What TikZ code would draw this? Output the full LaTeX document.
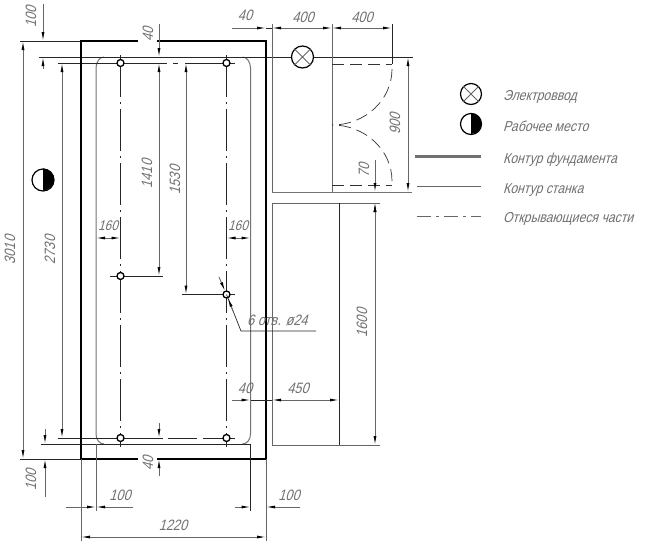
\documentclass[tikz,border=0pt]{standalone}
\usepackage{fontspec}
\setmainfont{Liberation Sans}
\newfontfamily\cadfont[FakeSlant=0.28,FakeStretch=0.85]{Liberation Sans}
\usetikzlibrary{arrows.meta}
\definecolor{thinc}{HTML}{666666}
\definecolor{cadtext}{HTML}{707070}
\definecolor{fundc}{HTML}{707070}
\tikzset{
  thinl/.style={line width=0.9pt,draw=thinc},
  blackl/.style={line width=0.7pt,draw=black!85},
  outl/.style={line width=1pt,draw=black!55},
  fund/.style={line width=2pt,draw=black},
  center/.style={line width=0.7pt,draw=black!85,dash pattern=on 42pt off 5pt on 2pt off 5pt},
  opening/.style={line width=0.7pt,draw=black!80,dash pattern=on 12pt off 6pt},
  dimv/.style={thinl,{Latex[length=9pt,width=3pt,black]}-{Latex[length=9pt,width=3pt,black]}},
  tipend/.style={thinl,-{Latex[length=9pt,width=3pt,black]}},
  lab/.style={text=cadtext,font=\cadfont\fontsize{15}{15}\selectfont,inner sep=0pt},
  smalllab/.style={lab,font=\cadfont\fontsize{14}{14}\selectfont},
  lg/.style={lab,anchor=base west,font=\cadfont\fontsize{14.4}{14.4}\selectfont},
  hole/.style={circle,draw=black,line width=1.3pt,minimum size=7pt,inner sep=0pt,fill=white},
  sym/.style={line width=1.2pt,draw=black}
}
\begin{document}
\begin{tikzpicture}[x=1pt,y=-1pt]
\useasboundingbox (0,0) rectangle (650,550);
\fill[white] (0,0) rectangle (650,550);

% coordinates of the holes
\coordinate (h1) at (120.5,63);
\coordinate (h2) at (226.5,63);
\coordinate (h3) at (120.5,276);
\coordinate (h4) at (226.5,294.5);
\coordinate (h5) at (120.5,438);
\coordinate (h6) at (226.5,438);

% machine contour
\draw[outl] (104,57) arc[start angle=90,end angle=180,x radius=8pt,y radius=11pt] -- (96,434) arc[start angle=180,end angle=270,x radius=8pt,y radius=10pt];
\draw[outl] (242.5,57) arc[start angle=90,end angle=0,x radius=8pt,y radius=11pt] -- (250.5,434) arc[start angle=0,end angle=-90,x radius=8pt,y radius=10pt];

% centre lines
\draw[center] (120.5,55) -- (120.5,447);
\draw[center] (226.5,55) -- (226.5,447);
\draw[blackl] (58,63) -- (167,63) (173,63) -- (178,63) (185,63) -- (235,63);
\draw[blackl] (58,438) -- (163,438) (168,438) -- (197,438) (203,438) -- (235,438);
\draw[blackl] (110,276) -- (163,276);
\draw[blackl] (182,294.5) -- (235,294.5);

% long horizontal datum lines
\draw[blackl] (39,57) -- (291.5,57);
\draw[blackl] (313.5,57) -- (413,57);
\draw[blackl] (41,444) -- (250.5,444);
\draw[blackl] (20,41) -- (81,41);
\draw[blackl] (20,459) -- (81,459);

% foundation
\draw[fund] (138,41.3) -- (81,41.3) -- (81,459.3) -- (138,459.3);
\draw[fund] (157,41.3) -- (266,41.3) -- (266,459.3) -- (157,459.3);

% machine body
\draw[thinl] (272,24) -- (272,192);
\draw[thinl] (332,24) -- (332,192);
\draw[blackl] (392,24) -- (392,64);
\draw[outl] (272,192) -- (412,192);
\draw[thinl] (380,203) -- (272,203) -- (272,445) -- (380,445);
\draw[blackl] (339,203) -- (339,445);

% doors
\draw[opening] (332,64) -- (392,64);
\draw[opening] (332,185) -- (392,185);
\draw[opening] (392,69) arc[start angle=0,end angle=-90,x radius=60pt,y radius=56pt];
\draw[opening] (392,181) arc[start angle=0,end angle=90,x radius=60pt,y radius=56pt];

% holes
\foreach \h in {h1,h2,h3,h4,h5,h6}{\node[hole] at (\h) {};}

% vertical dimensions
\draw[dimv] (23,41) -- (23,459);
\draw[dimv] (62,63) -- (62,438);
\node[lab,rotate=90] (t3010) at (10,250) {3010};
\node[lab,rotate=90] (t2730) at (50,250) {2730};
\draw[tipend] (43,4) -- (43,41);
\draw[tipend] (43,69) -- (43,57);
\node[lab,rotate=90] (t100a) at (31,17) {100};
\draw[tipend] (45,429) -- (45,444);
\draw[tipend] (45,497) -- (45,459);
\node[lab,rotate=90] (t100b) at (31,480) {100};
\draw[tipend] (159,24) -- (159,57);
\draw[dimv] (159,63) -- (159,276);
\node[lab,rotate=90] (t40a) at (148,34) {40};
\node[lab,rotate=90] (t1410) at (147,174) {1410};
\draw[dimv] (186,63) -- (186,294.5);
\node[lab,rotate=90] (t1530) at (175,180) {1530};
\draw[tipend] (159,423) -- (159,438);
\draw[tipend] (159,476) -- (159,459);
\node[lab,rotate=90] (t40b) at (148,463) {40};
\draw[dimv] (408,57) -- (408,192);
\node[lab,rotate=90] (t900) at (395,124) {900};
\draw[tipend] (375,160) -- (375,192);
\draw[tipend] (375,218) -- (375,203);
\node[lab,rotate=90] (t70) at (364,170) {70};
\draw[dimv] (375,203) -- (375,445);
\node[lab,rotate=90] (t1600) at (362,323) {1600};

% horizontal dimensions top
\draw[tipend] (232,28) -- (266,28);
\draw[dimv] (272,28) -- (332,28);
\draw[dimv] (332,28) -- (392,28);
\draw[blackl] (266,28) -- (272,28);
\node[lab] (t40c) at (245,15) {40};
\node[lab] (t400a) at (303,17) {400};
\node[lab] (t400b) at (362,17) {400};

% 160
\draw[dimv] (96,238) -- (120.5,238);
\draw[dimv] (226.5,238) -- (250.5,238);
\node[smalllab] (t160a) at (108,226) {160};
\node[smalllab] (t160b) at (238,226) {160};

% 40 / 450
\draw[tipend] (232,400) -- (250.5,400);
\draw[blackl] (250.5,400) -- (272,400);
\draw[dimv] (272,400) -- (339,400);
\node[lab] (t40d) at (245,388) {40};
\node[lab] (t450) at (298,388) {450};

% leader
\draw[blackl] (226.5,294.5) -- (241,331) -- (316,331);
\draw[tipend] (219,277) -- (225,291);
\draw[tipend] (233,311) -- (228,298);
\node[lab,anchor=south west] (t6) at (247,326) {6 отв. ø24};

% bottom dimensions
\draw[thinl] (81,459) -- (81,541);
\draw[thinl] (266,459) -- (266,541);
\draw[thinl] (96,444) -- (96,511);
\draw[blackl] (250.5,444) -- (250.5,511);
\draw[tipend] (66,507) -- (96,507);
\draw[tipend] (133,507) -- (96,507);
\node[lab] (t100c) at (120,495) {100};
\draw[tipend] (235,507) -- (250.5,507);
\draw[tipend] (300,507) -- (266,507);
\node[lab] (t100d) at (289,495) {100};
\draw[dimv] (81,537) -- (266,537);
\node[lab] (t1220) at (173,525) {1220};

% power entry
\node[circle,sym,minimum size=22pt,inner sep=0pt] (el) at (302.5,57) {};
\draw[thinl] (el.north west) -- (el.south east) (el.north east) -- (el.south west);

% workplace symbol
\node[circle,sym,minimum size=22pt,inner sep=0pt] (wp) at (43,180) {};
\fill[black] (wp.north) arc[start angle=90,end angle=-90,radius=11pt] -- cycle;

% legend
\node[circle,sym,minimum size=21pt,inner sep=0pt] (lgel) at (471,94) {};
\draw[thinl] (lgel.north west) -- (lgel.south east) (lgel.north east) -- (lgel.south west);
\node[circle,sym,minimum size=21pt,inner sep=0pt] (lgwp) at (471,124) {};
\fill[black] (lgwp.north) arc[start angle=90,end angle=-90,radius=10.5pt] -- cycle;
\draw[line width=3pt,draw=fundc] (415,156) -- (481,156);
\draw[thinl] (417,186) -- (481,186);
\draw[thinl,dash pattern=on 14pt off 5pt on 3pt off 5pt] (417,216) -- (481,216);
\node[lg] (l1) at (503,100) {Электроввод};
\node[lg] (l2) at (503,131) {Рабочее место};
\node[lg] (l3) at (503,163) {Контур фундамента};
\node[lg] (l4) at (503,193) {Контур станка};
\node[lg] (l5) at (503,222) {Открывающиеся части};
\end{tikzpicture}
\end{document}
